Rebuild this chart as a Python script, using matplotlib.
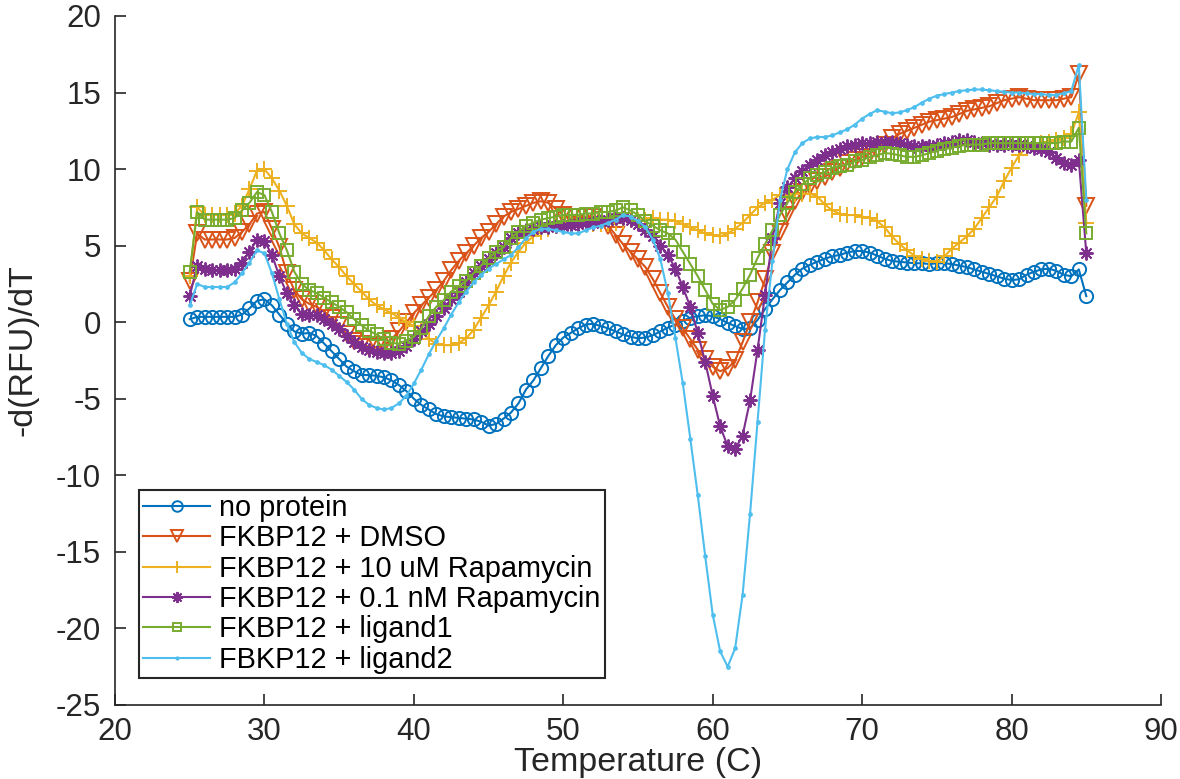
import numpy as np
import matplotlib
matplotlib.use("Agg")
import matplotlib.pyplot as plt

plt.rcParams['font.family'] = ['Liberation Sans', 'DejaVu Sans']
plt.rcParams['axes.unicode_minus'] = False

temperature = np.arange(25.0, 85.5, 0.5)

no_protein = [
    0.2, 0.35, 0.35, 0.35, 0.35, 0.35, 0.35, 0.5, 0.9, 1.4,
    1.5, 1.1, 0.5, -0.1, -0.6, -0.75, -0.7, -0.9, -1.4, -1.9,
    -2.4, -2.9, -3.2, -3.45, -3.45, -3.5, -3.6, -3.8, -4.1, -4.5,
    -5.0, -5.4, -5.7, -6.0, -6.15, -6.2, -6.25, -6.3, -6.35, -6.5,
    -6.75, -6.65, -6.3, -5.9, -5.3, -4.4, -3.8, -3.0, -2.2, -1.5,
    -1.0, -0.7, -0.4, -0.15, -0.1, -0.25, -0.4, -0.6, -0.8, -0.95,
    -1.05, -1.0, -0.85, -0.6, -0.35, -0.15, 0.1, 0.3, 0.4, 0.45,
    0.4, 0.2, -0.05, -0.25, -0.45, -0.4, 0.15, 0.85, 1.5, 2.1,
    2.6, 3.1, 3.5, 3.75, 3.95, 4.15, 4.3, 4.4, 4.55, 4.65,
    4.65, 4.55, 4.35, 4.15, 4.0, 3.95, 3.9, 3.85, 3.85, 3.8,
    3.85, 3.85, 3.8, 3.7, 3.6, 3.45, 3.3, 3.15, 3.0, 2.85,
    2.75, 2.8, 3.1, 3.3, 3.45, 3.5, 3.35, 3.1, 3.0, 3.45,
    1.7]

fkbp_dmso = [
    2.7, 5.8, 5.4, 5.4, 5.4, 5.4, 5.5, 5.9, 6.4, 7.1,
    7.2, 6.1, 4.9, 3.2, 2.1, 1.5, 1.2, 1.0, 0.7, 0.25,
    -0.2, -0.75, -1.2, -1.45, -1.6, -1.65, -1.5, -1.1, -0.6, 0.0,
    0.6, 1.1, 1.6, 2.1, 2.7, 3.4, 4.0, 4.5, 5.0, 5.5,
    5.9, 6.4, 6.9, 7.2, 7.4, 7.6, 7.8, 7.9, 7.8, 7.4,
    7.0, 6.9, 6.9, 6.9, 6.9, 6.7, 6.3, 5.7, 5.1, 4.6,
    4.1, 3.6, 2.8, 1.9, 1.0, 0.2, -0.4, -1.1, -1.8, -2.4,
    -2.9, -3.2, -3.0, -2.5, -1.3, 0.0, 1.3, 2.8, 4.5, 5.9,
    7.0, 7.9, 8.5, 8.9, 9.2, 9.5, 9.8, 10.1, 10.4, 10.6,
    10.8, 11.0, 11.3, 11.6, 12.0, 12.3, 12.5, 12.7, 12.9, 13.1,
    13.2, 13.3, 13.4, 13.6, 13.8, 13.9, 14.0, 14.1, 14.3, 14.5,
    14.6, 14.7, 14.6, 14.5, 14.5, 14.5, 14.5, 14.6, 14.7, 16.2,
    7.6]

fkbp_rapa_10um = [
    3.0, 7.5, 7.0, 7.0, 7.0, 7.0, 7.1, 7.6, 8.7, 9.9,
    10.0, 9.4, 8.6, 7.6, 6.4, 5.8, 5.5, 5.2, 4.7, 4.1,
    3.6, 3.0, 2.5, 2.0, 1.5, 1.1, 0.85, 0.6, 0.3, 0.0,
    -0.25, -0.6, -1.1, -1.4, -1.5, -1.5, -1.35, -1.05, -0.5, 0.3,
    1.1, 2.0, 3.0, 3.9, 4.6, 5.2, 5.6, 5.9, 6.1, 6.3,
    6.4, 6.5, 6.4, 6.4, 6.4, 6.4, 6.4, 6.5, 6.6, 6.7,
    6.7, 6.7, 6.8, 6.7, 6.7, 6.6, 6.4, 6.2, 6.0, 5.8,
    5.7, 5.6, 5.8, 6.1, 6.5, 7.0, 7.5, 7.8, 8.0, 8.3,
    8.3, 8.4, 8.4, 8.4, 8.2, 7.7, 7.3, 7.1, 7.0, 7.0,
    6.9, 6.8, 6.6, 6.2, 5.6, 5.1, 4.7, 4.35, 4.1, 4.0,
    3.95, 4.3, 4.8, 5.2, 5.6, 6.1, 6.8, 7.5, 8.2, 9.2,
    10.1, 10.9, 11.4, 11.6, 11.7, 11.8, 11.9, 12.0, 12.3, 13.7,
    6.5]

fkbp_rapa_01nm = [
    1.7, 3.7, 3.5, 3.4, 3.4, 3.4, 3.5, 3.9, 4.6, 5.4,
    5.3, 4.4, 3.0, 1.9, 1.1, 0.55, 0.45, 0.45, 0.2, -0.1,
    -0.45, -0.9, -1.3, -1.6, -1.8, -1.95, -2.0, -2.0, -1.85, -1.55,
    -1.1, -0.6, -0.1, 0.4, 0.9, 1.5, 2.0, 2.6, 3.2, 3.7,
    4.1, 4.5, 4.9, 5.5, 5.8, 6.0, 6.1, 6.2, 6.25, 6.3,
    6.3, 6.35, 6.4, 6.45, 6.5, 6.6, 6.7, 6.8, 6.8, 6.7,
    6.4, 6.0, 5.6, 5.0, 4.4, 3.5, 2.3, 1.0, -0.7, -2.6,
    -4.8, -6.8, -8.1, -8.3, -7.4, -5.1, -1.8, 1.8, 5.5, 7.8,
    8.8, 9.4, 9.9, 10.3, 10.6, 10.9, 11.1, 11.3, 11.5, 11.6,
    11.7, 11.7, 11.8, 11.8, 11.8, 11.7, 11.6, 11.5, 11.5, 11.5,
    11.6, 11.7, 11.8, 11.9, 11.9, 11.8, 11.7, 11.6, 11.6, 11.6,
    11.6, 11.6, 11.5, 11.4, 11.3, 11.1, 10.7, 10.4, 10.3, 10.6,
    4.5]

fkbp_ligand1 = [
    3.3, 7.2, 6.7, 6.7, 6.7, 6.7, 6.8, 7.3, 7.8, 8.5,
    8.3, 7.2, 5.8, 4.7, 3.3, 2.5, 2.1, 1.9, 1.6, 1.3,
    1.0, 0.65, 0.2, -0.2, -0.55, -0.8, -1.1, -1.35, -1.4, -1.2,
    -0.95, -0.4, 0.4, 1.0, 1.45, 2.0, 2.35, 2.7, 3.2, 3.7,
    4.2, 4.6, 4.9, 5.5, 5.9, 6.3, 6.5, 6.7, 6.8, 6.9,
    7.0, 7.0, 7.0, 7.1, 7.1, 7.2, 7.2, 7.3, 7.5, 7.3,
    7.0, 6.6, 6.3, 6.0, 5.8, 5.4, 4.6, 3.8, 3.0, 2.1,
    1.2, 0.8, 1.0, 1.45, 2.2, 3.1, 4.2, 5.1, 6.0, 7.0,
    7.8, 8.5, 9.0, 9.4, 9.6, 9.8, 10.1, 10.2, 10.3, 10.5,
    10.6, 10.8, 10.9, 11.05, 11.0, 10.9, 10.8, 10.8, 10.9, 11.05,
    11.2, 11.3, 11.4, 11.5, 11.6, 11.6, 11.6, 11.7, 11.7, 11.7,
    11.7, 11.7, 11.7, 11.7, 11.7, 11.7, 11.7, 11.8, 11.8, 12.7,
    5.8]

fbkp_ligand2 = [
    1.1, 2.5, 2.3, 2.3, 2.3, 2.3, 2.6, 3.2, 3.9, 4.7,
    4.5, 3.2, 1.5, -0.1, -1.3, -2.0, -2.4, -2.6, -2.8, -3.1,
    -3.5, -3.9, -4.4, -5.0, -5.4, -5.6, -5.7, -5.6, -5.3, -4.8,
    -4.0, -3.1, -2.1, -1.2, -0.4, 0.5, 1.3, 2.0, 2.6, 3.1,
    3.5, 3.8, 4.1, 4.4, 4.9, 5.5, 5.9, 6.1, 6.1, 6.0,
    5.9, 5.8, 5.8, 6.0, 6.2, 6.3, 6.5, 6.7, 7.0, 6.9,
    6.6, 6.2, 5.4, 4.1, 1.9, -1.0, -4.0, -7.6, -11.3, -15.3,
    -19.1, -21.5, -22.5, -21.3, -17.8, -12.5, -6.5, -0.5, 4.0, 8.0,
    10.0, 11.1, 11.7, 12.0, 12.1, 12.1, 12.2, 12.4, 12.6, 12.9,
    13.3, 13.6, 13.85, 13.75, 13.65, 13.7, 13.85, 14.05, 14.35, 14.6,
    14.8, 14.9, 15.0, 15.1, 15.15, 15.2, 15.2, 15.15, 15.1, 15.05,
    15.0, 15.0, 14.95, 14.9, 14.9, 14.85, 14.85, 14.95, 15.1, 16.8,
    8.0]

series_labels = ["no protein", "FKBP12 + DMSO", "FKBP12 + 10 uM Rapamycin",
                 "FKBP12 + 0.1 nM Rapamycin", "FKBP12 + ligand1", "FBKP12 + ligand2"]
series_values = [no_protein, fkbp_dmso, fkbp_rapa_10um, fkbp_rapa_01nm,
                 fkbp_ligand1, fbkp_ligand2]
colors = ["#0072BD", "#D95319", "#EDB120", "#7E2F8E", "#77AC30", "#4DBEEE"]
markers = ["o", "v", "+", (8, 2, 0), "s", "."]
msizes = [9.5, 11, 11, 10, 8, 4]

W, H = 1180, 779
fig = plt.figure(figsize=(W / 100, H / 100), dpi=100)
ax = fig.add_axes([115 / W, 1 - 705 / H, (1161 - 115) / W, (705 - 16) / H])

for vals, lab, col, mk, ms in zip(series_values, series_labels, colors, markers, msizes):
    ax.plot(temperature, vals, color=col, marker=mk, markersize=ms,
            markerfacecolor='none', markeredgecolor=col, markeredgewidth=1.4,
            linewidth=1.5, label=lab)

ax.set_xlim(20, 90)
ax.set_ylim(-25, 20)
ax.set_xticks(np.arange(20, 91, 10))
ax.set_yticks(np.arange(-25, 21, 5))

axis_col = "#262626"
for side in ["top", "right"]:
    ax.spines[side].set_visible(False)
for side in ["left", "bottom"]:
    ax.spines[side].set_color(axis_col)
    ax.spines[side].set_linewidth(1.2)
ax.tick_params(direction='in', length=8, width=1.2, colors=axis_col,
               labelsize=22.5, top=False, right=False)
ax.tick_params(axis='x', pad=9)
ax.tick_params(axis='y', pad=10)
for lbl in ax.get_xticklabels() + ax.get_yticklabels():
    lbl.set_color(axis_col)

ax.set_xlabel("Temperature (C)", fontsize=24.5, color=axis_col, labelpad=0)
ax.set_ylabel("-d(RFU)/dT", fontsize=24.5, color=axis_col, labelpad=5)
ax.yaxis.set_label_coords(-0.073, 0.515)

leg = ax.legend(loc='lower left', bbox_to_anchor=(139 / W, 1 - 678 / H),
                bbox_transform=fig.transFigure, borderaxespad=0,
                fontsize=20.8, frameon=True, fancybox=False, framealpha=1,
                labelspacing=0.08, handlelength=2.3, handletextpad=0.32,
                borderpad=0.15, markerscale=0.8)
leg.get_frame().set_edgecolor(axis_col)
leg.get_frame().set_linewidth(1.5)

fig.savefig("out.png", dpi=100)
